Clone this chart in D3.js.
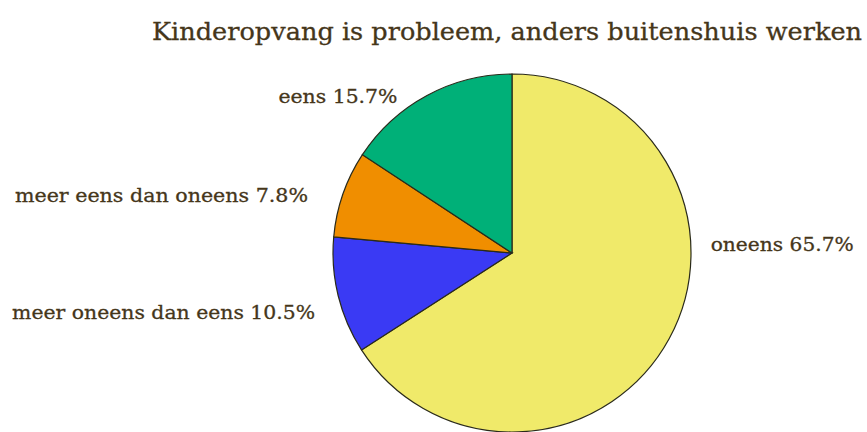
<!DOCTYPE html>
<html><head><meta charset="utf-8">
<script src="https://cdn.jsdelivr.net/npm/d3@7"></script>
<style>html,body{margin:0;padding:0;background:#fff;}svg{display:block;}</style>
</head><body>
<svg id="c" width="867" height="432"></svg>
<script>
const title = "Kinderopvang is probleem, anders buitenshuis werken";
const categories = ["oneens", "meer oneens dan eens", "meer eens dan oneens", "eens"];
const values = [65.7, 10.5, 7.8, 15.7];
const colors = ["#f0ea6a", "#3a3af4", "#f08e00", "#00b078"];

const W = 867, H = 432;
const cx = 512, cy = 253, r = 179;
const textColor = "#45361a";
// label placement relative to pie centre (in units of radius), and anchor
const labelLayout = [
  {dx: 1.11, dy: -0.01, anchor: "start", len: 143},
  {dx: -1.10, dy: 0.37, anchor: "end", len: 303},
  {dx: -1.14, dy: -0.285, anchor: "end", len: 293},
  {dx: -0.64, dy: -0.84, anchor: "end", len: 119}
];

const svg = d3.select("#c");
svg.append("text")
  .attr("x", 152).attr("y", 40)
  .attr("font-family", "DejaVu Serif")
  .attr("font-size", 25)
  .attr("fill", textColor)
  .attr("stroke", textColor).attr("stroke-width", 0.3)
  .attr("textLength", 710).attr("lengthAdjust", "spacingAndGlyphs")
  .text(title);

const data = categories.map((c, i) => ({c, v: values[i], color: colors[i], i}));
const pie = d3.pie().value(d => d.v).sort(null);
const arc = d3.arc().innerRadius(0).outerRadius(r);
const g = svg.append("g").attr("transform", `translate(${cx},${cy})`);
g.selectAll("path").data(pie(data)).join("path")
  .attr("d", arc)
  .attr("fill", d => d.data.color)
  .attr("stroke", "#2a2a1a")
  .attr("stroke-width", 1.2);

g.selectAll("text.lab").data(pie(data)).join("text")
  .attr("class", "lab")
  .attr("x", d => labelLayout[d.data.i].dx * r)
  .attr("y", d => labelLayout[d.data.i].dy * r)
  .attr("text-anchor", d => labelLayout[d.data.i].anchor)
  .attr("font-family", "DejaVu Serif")
  .attr("font-size", 19)
  .attr("fill", textColor)
  .attr("stroke", textColor).attr("stroke-width", 0.3)
  .attr("textLength", d => labelLayout[d.data.i].len)
  .attr("lengthAdjust", "spacingAndGlyphs")
  .text(d => `${d.data.c} ${d.data.v.toFixed(1)}%`);
</script>
</body></html>
